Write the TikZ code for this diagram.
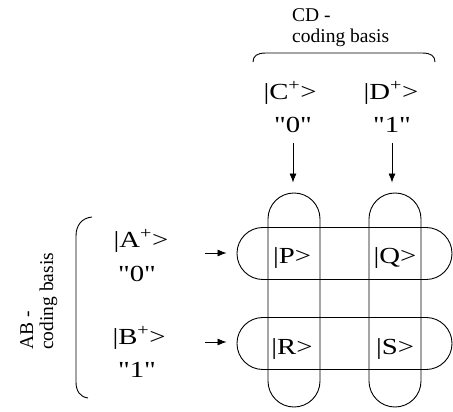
\documentclass[tikz,border=0pt]{standalone}
\usepackage{fontspec}
\setmainfont{Liberation Serif}
\newfontfamily\ketfont[FakeStretch=1.25]{Liberation Serif}
\usetikzlibrary{arrows.meta}
\newcommand{\qt}[1]{\symbol{34}#1\symbol{34}}
\begin{document}
\begin{tikzpicture}[x=1pt,y=1pt,
  ket/.style={font=\ketfont\fontsize{23}{25}\selectfont, inner sep=0pt, anchor=base},
  basis/.style={font=\fontsize{19.5}{21}\selectfont, inner sep=0pt, anchor=base west},
  capsule/.style={draw, line width=0.9pt, rounded corners=25.9pt, minimum width=52pt, inner sep=0pt},
  arr/.style={line width=0.8pt, -{Latex[length=9pt,width=7pt]}},
  brace/.style={line width=0.9pt}]
\useasboundingbox (0,0) rectangle (453,412);
% capsules
\node[capsule, minimum height=214pt] (vc1) at (294,112) {};
\node[capsule, minimum height=214pt] (vc2) at (395,112) {};
\node[capsule, minimum width=215pt, minimum height=52pt] (hc1) at (344.5,158.5) {};
\node[capsule, minimum width=215pt, minimum height=52pt] (hc2) at (344.5,68.5) {};
% states
\node[ket] (P) at (292,148) {|P>};
\node[ket] (Q) at (395,148) {|Q>};
\node[ket] (R) at (292,57) {|R>};
\node[ket] (S) at (395,57) {|S>};
% top basis
\node[basis] (cd1) at (292,390) {CD -};
\node[basis] (cd2) at (292,369) {coding basis};
\node[ket] (C) at (290,312) {|C\textsuperscript{+}>};
\node[ket] (D) at (391,312) {|D\textsuperscript{+}>};
\node[ket] (c0) at (293,279) {\qt{0}};
\node[ket] (d1) at (392,279) {\qt{1}};
% left basis
\node[basis, rotate=90] (ab1) at (33,62) {AB -};
\node[basis, rotate=90] (ab2) at (53,62) {coding basis};
\node[ket] (A) at (141,164) {|A\textsuperscript{+}>};
\node[ket] (a0) at (137,130) {\qt{0}};
\node[ket] (B) at (139,67) {|B\textsuperscript{+}>};
\node[ket] (b1) at (137,34) {\qt{1}};
% arrows
\coordinate (sC) at (293,269);
\coordinate (sD) at (392,269);
\coordinate (sA) at (205,159);
\coordinate (sB) at (205,70);
\draw[arr, shorten >=10pt] (sC) -- (sC |- vc1.north);
\draw[arr, shorten >=10pt] (sD) -- (sD |- vc2.north);
\draw[arr, shorten >=10pt] (sA) -- (sA -| hc1.west);
\draw[arr, shorten >=10pt] (sB) -- (sB -| hc2.west);
% braces
\draw[brace] (253,350) .. controls (253,356) and (257,359) .. (266,359) -- (422,359) .. controls (431,359) and (435,356) .. (435,350);
\draw[brace] (92,195) .. controls (82,194) and (76,187) .. (76,176) -- (76,30) .. controls (76,21) and (80,15) .. (88,14);
\end{tikzpicture}
\end{document}
